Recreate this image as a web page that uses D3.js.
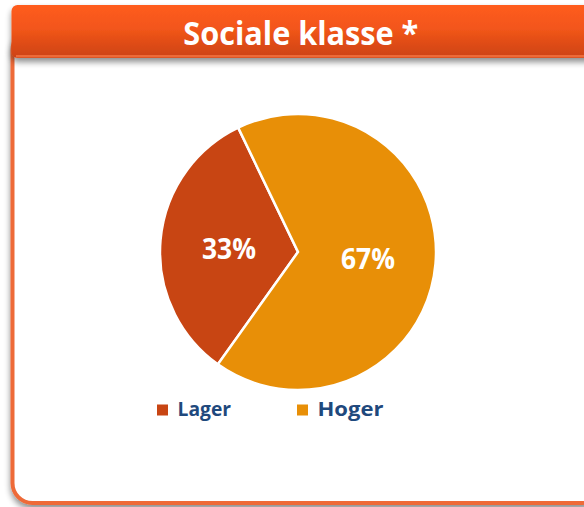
<!DOCTYPE html>
<html>
<head>
<meta charset="utf-8">
<script src="https://cdn.jsdelivr.net/npm/d3@7"></script>
<style>
  html, body { margin: 0; padding: 0; background: #ffffff; }
  svg { display: block; }
  text { font-family: "Open Sans", "Noto Sans", sans-serif; font-weight: 700; }
</style>
</head>
<body>
<svg id="chart" width="584" height="507"></svg>
<script>
const title = "Sociale klasse *";
const categories = ["Lager", "Hoger"];
const values = [33, 67];
const valueLabels = ["33%", "67%"];
const colors = ["#C84513", "#E88F07"];

const svg = d3.select("#chart");

const defs = svg.append("defs");
const grad = defs.append("linearGradient").attr("id", "hdr").attr("x1", 0).attr("y1", 0).attr("x2", 0).attr("y2", 1);
grad.append("stop").attr("offset", "0%").attr("stop-color", "#FF5C1C");
grad.append("stop").attr("offset", "45%").attr("stop-color", "#F2561A");
grad.append("stop").attr("offset", "100%").attr("stop-color", "#CC4212");
const sh = defs.append("filter").attr("id", "shadow").attr("x", "-10%").attr("y", "-10%").attr("width", "130%").attr("height", "150%");
sh.append("feGaussianBlur").attr("in", "SourceAlpha").attr("stdDeviation", 3);
sh.append("feOffset").attr("dx", 0).attr("dy", 4).attr("result", "ob");
sh.append("feComponentTransfer").append("feFuncA").attr("type", "linear").attr("slope", 0.45);
const m = sh.append("feMerge");
m.append("feMergeNode");
m.append("feMergeNode").attr("in", "SourceGraphic");

// frame
svg.append("rect")
  .attr("x", 12.5).attr("y", 30).attr("width", 590).attr("height", 473)
  .attr("rx", 20).attr("ry", 20)
  .attr("fill", "#ffffff").attr("stroke", "#EE6A38").attr("stroke-width", 4)
  .attr("filter", "url(#shadow)");

// header
const hdr = svg.append("g").attr("filter", "url(#shadow)");
hdr.append("rect")
  .attr("x", 11.5).attr("y", 5).attr("width", 600).attr("height", 53)
  .attr("rx", 6).attr("ry", 6)
  .attr("fill", "url(#hdr)");
hdr.append("rect")
  .attr("x", 16).attr("y", 55).attr("width", 600).attr("height", 2.5)
  .attr("fill", "#EE6A38");

function fitText(sel, targetWidth) {
  sel.attr("textLength", targetWidth).attr("lengthAdjust", "spacingAndGlyphs");
}

const t = svg.append("text")
  .attr("x", 300.8).attr("y", 45)
  .attr("text-anchor", "middle")
  .attr("font-size", 32)
  .attr("fill", "#ffffff")
  .text(title);
fitText(t, 235);

// pie
const cx = 298, cy = 252, r = 138;
const start = 215.5 * Math.PI / 180;
const pie = d3.pie().sort(null).value(d => d)
  .startAngle(start).endAngle(start + 2 * Math.PI);
const arcs = pie(values);
const arc = d3.arc().innerRadius(0).outerRadius(r);
const g = svg.append("g").attr("transform", `translate(${cx},${cy})`);
g.selectAll("path").data(arcs).join("path")
  .attr("d", arc)
  .attr("fill", (d, i) => colors[i])
  .attr("stroke", "#ffffff").attr("stroke-width", 2.5).attr("stroke-linejoin", "miter");

const labelPos = [[-69, 7], [70, 17]];
g.selectAll("text.v").data(arcs).join("text")
  .attr("class", "v")
  .attr("x", (d, i) => labelPos[i][0]).attr("y", (d, i) => labelPos[i][1])
  .attr("text-anchor", "middle")
  .attr("font-size", 28)
  .attr("fill", "#ffffff")
  .text((d, i) => valueLabels[i])
  .each(function () { fitText(d3.select(this), 54); });

// legend
const legX = [157, 297];
const lg = svg.append("g");
categories.forEach((c, i) => {
  lg.append("rect").attr("x", legX[i]).attr("y", 404.5).attr("width", 11).attr("height", 11).attr("fill", colors[i]);
  const tx = lg.append("text").attr("x", legX[i] + 20.5).attr("y", 416)
    .attr("font-size", 20).attr("fill", "#1F497D").text(c);
  fitText(tx, i === 0 ? 53.5 : 66);
});
</script>
</body>
</html>
